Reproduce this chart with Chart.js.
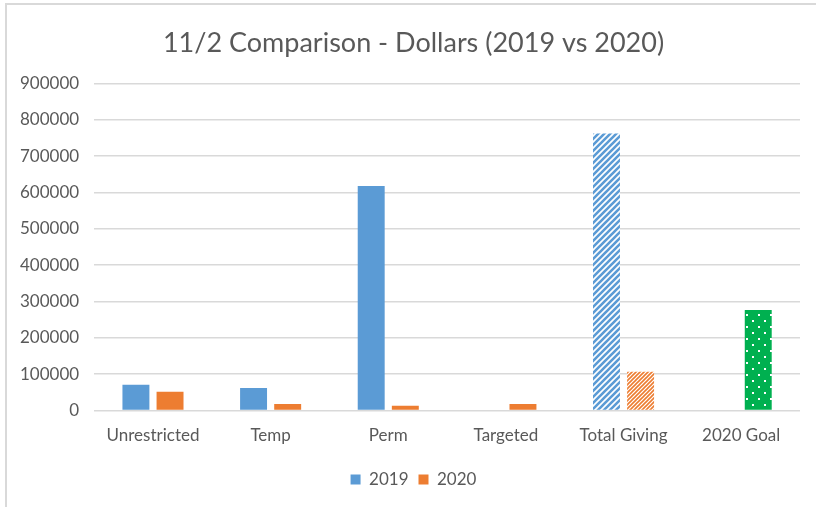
<!DOCTYPE html>
<html>
<head>
<meta charset="utf-8">
<script src="https://cdn.jsdelivr.net/npm/chart.js@4"></script>
<style>
  html, body { margin: 0; padding: 0; background: #fff; }
  #wrap { width: 816px; height: 507px; }
</style>
</head>
<body>
<div id="wrap"><canvas id="givingChart" width="816" height="507"></canvas></div>
<script>
const categories = ['Unrestricted', 'Temp', 'Perm', 'Targeted', 'Total Giving', '2020 Goal'];
const values2019 = [71000, 62000, 618000, null, 762000, null];
const values2020 = [52000, 18000, 13000, 18000, 107000, 277000];
const yTicksMax = 900000;
const yTicksStep = 100000;

const BLUE = '#5B9BD5';
const ORANGE = '#ED7D31';
const GREEN = '#00B050';
const TEXT = '#595959';

const ctx = document.getElementById('givingChart').getContext('2d');

// striped fill like Excel's upward diagonal pattern
function stripePattern(color, size, width) {
    const c = document.createElement('canvas');
    c.width = size;
    c.height = size;
    const p = c.getContext('2d');
    p.fillStyle = '#fff';
    p.fillRect(0, 0, size, size);
    p.strokeStyle = color;
    p.lineWidth = width;
    p.beginPath();
    p.moveTo(-1, size + 1); p.lineTo(size + 1, -1);
    p.moveTo(-size / 2 - 1, size / 2 + 1); p.lineTo(size / 2 + 1, -size / 2 - 1);
    p.moveTo(size / 2 - 1, size * 1.5 + 1); p.lineTo(size * 1.5 + 1, size / 2 - 1);
    p.stroke();
    return ctx.createPattern(c, 'repeat');
}

function dotPattern(color) {
    const c = document.createElement('canvas');
    c.width = 12;
    c.height = 12;
    const p = c.getContext('2d');
    p.fillStyle = color;
    p.fillRect(0, 0, 12, 12);
    p.fillStyle = '#fff';
    p.fillRect(2, 2, 2, 2);
    p.fillRect(8, 8, 2, 2);
    return ctx.createPattern(c, 'repeat');
}

const blueStripes = stripePattern(BLUE, 6, 2.6);
const orangeStripes = stripePattern(ORANGE, 4, 1.6);
const greenDots = dotPattern(GREEN);

const fills2019 = [BLUE, BLUE, BLUE, BLUE, blueStripes, BLUE];
const fills2020 = [ORANGE, ORANGE, ORANGE, ORANGE, orangeStripes, greenDots];

// light frame on the left and top like the pasted Excel chart
const framePlugin = {
    id: 'frame',
    beforeDraw(chart) {
        const c = chart.ctx;
        c.save();
        c.strokeStyle = '#d9d9d9';
        c.lineWidth = 2;
        c.beginPath();
        c.moveTo(6, 507);
        c.lineTo(6, 4);
        c.lineTo(816, 4);
        c.stroke();
        c.restore();
    }
};

// the original chart is a bit wider than the crop, so title and legend sit right of centre
const shiftPlugin = {
    id: 'shiftCentre',
    afterLayout(chart) {
        [chart.titleBlock, chart.legend].forEach((box) => {
            if (box) {
                box.left += 11;
                box.right += 11;
            }
        });
    }
};

new Chart(ctx, {
    type: 'bar',
    data: {
        labels: categories,
        datasets: [
            {
                label: '2019',
                data: values2019,
                backgroundColor: (c) => c.type === 'data' ? fills2019[c.dataIndex] : BLUE,
                borderWidth: 0,
                categoryPercentage: 0.58,
                barPercentage: 0.79
            },
            {
                label: '2020',
                data: values2020,
                backgroundColor: (c) => c.type === 'data' ? fills2020[c.dataIndex] : ORANGE,
                borderWidth: 0,
                categoryPercentage: 0.58,
                barPercentage: 0.79
            }
        ]
    },
    options: {
        responsive: false,
        animation: false,
        layout: {
            padding: { left: 5, right: 16, top: 0, bottom: 9 }
        },
        scales: {
            y: {
                min: 0,
                max: yTicksMax,
                border: { display: false },
                grid: {
                    color: '#d9d9d9',
                    lineWidth: 1.5,
                    drawTicks: false
                },
                ticks: {
                    stepSize: yTicksStep,
                    padding: 15,
                    color: TEXT,
                    font: { family: 'Lato', size: 17 },
                    callback: (v) => String(v)
                }
            },
            x: {
                border: { display: false },
                grid: { display: false, drawTicks: false },
                ticks: {
                    padding: 15,
                    color: TEXT,
                    maxRotation: 0,
                    font: { family: 'Lato', size: 17 }
                }
            }
        },
        plugins: {
            title: {
                display: true,
                text: '11/2 Comparison - Dollars (2019 vs 2020)',
                color: TEXT,
                font: { family: 'Lato', size: 27, weight: 'normal' },
                padding: { top: 27, bottom: 24 }
            },
            legend: {
                position: 'bottom',
                labels: {
                    boxWidth: 10,
                    boxHeight: 10,
                    padding: 10,
                    color: TEXT,
                    font: { family: 'Lato', size: 17 }
                }
            },
            tooltip: { enabled: false }
        }
    },
    plugins: [framePlugin, shiftPlugin]
});
</script>
</body>
</html>
